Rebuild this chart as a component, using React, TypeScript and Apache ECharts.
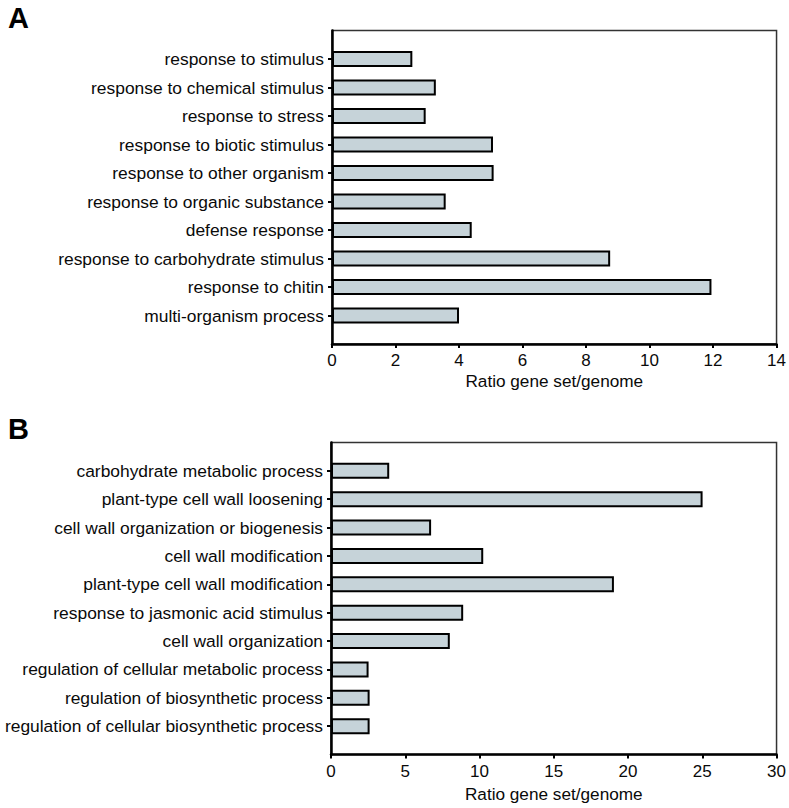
import React, { useEffect, useRef } from "react";
import * as echarts from "echarts";

const categoriesA = [
  "response to stimulus",
  "response to chemical stimulus",
  "response to stress",
  "response to biotic stimulus",
  "response to other organism",
  "response to organic substance",
  "defense response",
  "response to carbohydrate stimulus",
  "response to chitin",
  "multi-organism process",
];
const valuesA = [2.53, 3.27, 2.95, 5.07, 5.09, 3.58, 4.4, 8.76, 11.95, 4.0];

const categoriesB = [
  "carbohydrate metabolic process",
  "plant-type cell wall loosening",
  "cell wall organization or biogenesis",
  "cell wall modification",
  "plant-type cell wall modification",
  "response to jasmonic acid stimulus",
  "cell wall organization",
  "regulation of cellular metabolic process",
  "regulation of biosynthetic process",
  "regulation of cellular biosynthetic process",
];
const valuesB = [3.92, 25.02, 6.74, 10.25, 19.05, 8.9, 8.0, 2.53, 2.6, 2.6];

const axisTitle = "Ratio gene set/genome";
const panelLetters = ["A", "B"];

const FONT = "Liberation Sans, Arial, Helvetica, sans-serif";

export default function App() {
  const ref = useRef<HTMLDivElement>(null);
  useEffect(() => {
    if (!ref.current) return;
    const chart = echarts.init(ref.current, undefined, { renderer: "svg" });
    const padCats = (c: string[]) => ["", ...c, ""];
    const padVals = (v: number[]) => [null, ...v, null];
    const n = categoriesA.length;
    const yAxisCommon = (cats: string[], gridIndex: number) => ({
      type: "category",
      gridIndex,
      data: padCats(cats),
      inverse: true,
      boundaryGap: false,
      axisLine: { show: true, lineStyle: { color: "#000", width: 2.5 } },
      axisTick: {
        show: true,
        length: 4,
        interval: (i: number) => i > 0 && i < n + 1,
        lineStyle: { color: "#000", width: 2 },
      },
      axisLabel: {
        interval: 0,
        margin: 8,
        color: "#0a0a0a",
        fontSize: 17.4,
        fontFamily: FONT,
      },
      splitLine: { show: false },
    });
    const xAxisCommon = (max: number, interval: number, gridIndex: number, nameGap: number) => ({
      type: "value",
      gridIndex,
      min: 0,
      max,
      interval,
      name: axisTitle,
      nameLocation: "middle",
      nameGap,
      nameTextStyle: { color: "#0a0a0a", fontSize: 17.2, fontFamily: FONT },
      axisLine: { show: true, lineStyle: { color: "#000", width: 2.5 } },
      axisTick: { show: true, length: 4, lineStyle: { color: "#000", width: 2 } },
      axisLabel: { margin: 8, color: "#0a0a0a", fontSize: 17, fontFamily: FONT },
      splitLine: { show: false },
    });
    const barStyle = {
      color: "#c6d3d9",
      borderColor: "#000",
      borderWidth: 2,
    };
    chart.setOption({
      animation: false,
      backgroundColor: "#fff",
      title: [
        {
          text: panelLetters[0],
          left: 3,
          top: -2,
          textStyle: { fontSize: 29, fontWeight: "bold", color: "#000", fontFamily: FONT },
        },
        {
          text: panelLetters[1],
          left: 3,
          top: 409,
          textStyle: { fontSize: 29, fontWeight: "bold", color: "#000", fontFamily: FONT },
        },
      ],
      grid: [
        { left: 332, top: 30.5, width: 446, height: 313.5, show: true, borderColor: "#333", borderWidth: 1.5 },
        { left: 331, top: 442.5, width: 446.5, height: 312, show: true, borderColor: "#333", borderWidth: 1.5 },
      ],
      xAxis: [xAxisCommon(14, 2, 0, 28), xAxisCommon(30, 5, 1, 31)],
      yAxis: [yAxisCommon(categoriesA, 0), yAxisCommon(categoriesB, 1)],
      series: [
        {
          type: "bar",
          xAxisIndex: 0,
          yAxisIndex: 0,
          data: padVals(valuesA),
          barWidth: 16,
          itemStyle: barStyle,
        },
        {
          type: "bar",
          xAxisIndex: 1,
          yAxisIndex: 1,
          data: padVals(valuesB),
          barWidth: 16,
          itemStyle: barStyle,
        },
      ],
    });
    return () => chart.dispose();
  }, []);
  return (
    <div
      ref={ref}
      style={{ position: "fixed", left: 0, top: 0, width: 789, height: 808 }}
    />
  );
}
